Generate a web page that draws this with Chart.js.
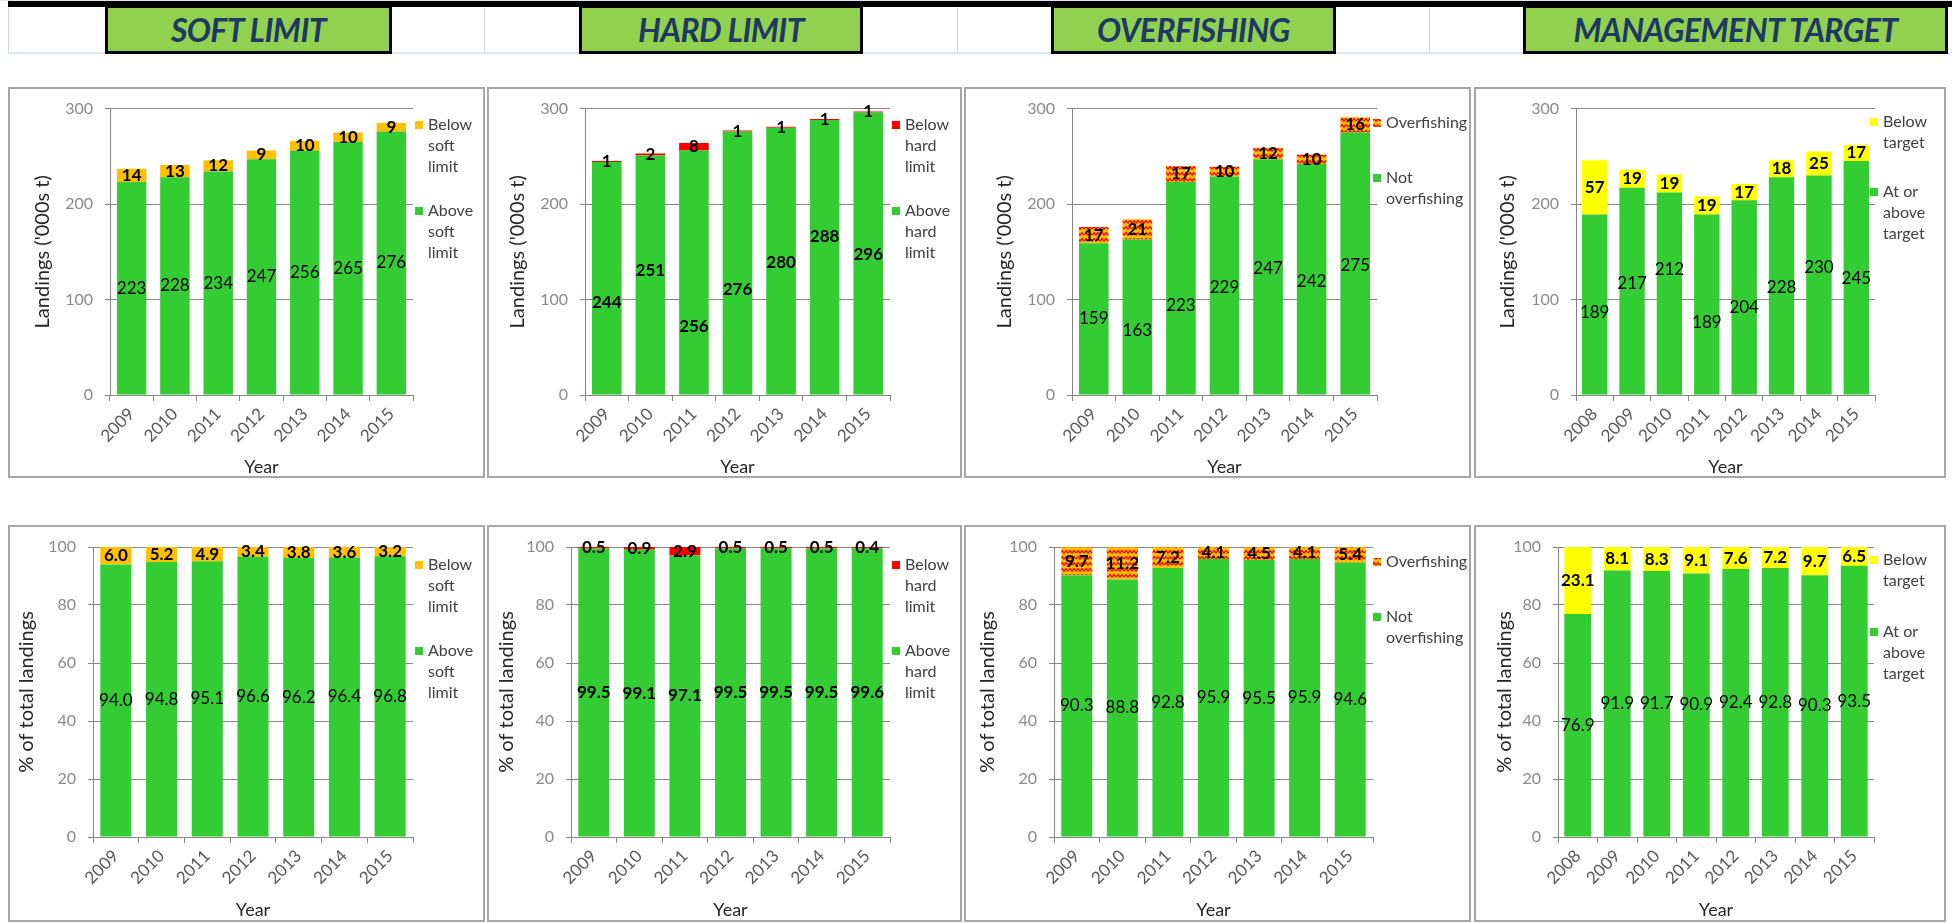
<!DOCTYPE html>
<html>
<head>
<meta charset="utf-8">
<title>Landings by harvest strategy reference point</title>
<script src="https://cdn.jsdelivr.net/npm/chart.js@4.4.1/dist/chart.umd.min.js"></script>
<style>
  html, body { margin: 0; padding: 0; background: #fff; }
  body { width: 1952px; height: 923px; position: relative; overflow: hidden; font-family: Lato, sans-serif; }
  .abs { position: absolute; box-sizing: border-box; }
  .topstrip { left: 0; top: 0; width: 1952px; height: 1px; background: #dce6f1; }
  .topline { left: 8px; top: 1px; width: 1944px; height: 6px; background: #000; }
  .cellrule { top: 7px; width: 1px; height: 46px; background: #d4d4d4; }
  .baserule { left: 8px; top: 52px; width: 1944px; height: 2px; background: #dde7f2; }
  .hdr { top: 5px; height: 49px; background: #92d050; border: 3px solid #000;
         display: flex; align-items: center; justify-content: center;
         font: italic bold 32px Lato, sans-serif; color: #1f3864; letter-spacing: -0.6px; }
  .panel { border: 2px solid #a6a6a6; background: #fff; }
  canvas { position: absolute; }
</style>
</head>
<body>
<div class="abs topstrip"></div>
<div class="abs topline"></div>
<div class="abs cellrule" style="left:8px"></div>
<div class="abs cellrule" style="left:484px"></div>
<div class="abs cellrule" style="left:957px"></div>
<div class="abs cellrule" style="left:1429px"></div>
<div class="abs baserule"></div>
<div class="abs hdr" style="left:105px;width:287px">SOFT LIMIT</div>
<div class="abs hdr" style="left:579px;width:284px">HARD LIMIT</div>
<div class="abs hdr" style="left:1051px;width:285px">OVERFISHING</div>
<div class="abs hdr" style="left:1523px;width:425px">MANAGEMENT TARGET</div>

<script>
// ---- categories ----
const years09 = ['2009', '2010', '2011', '2012', '2013', '2014', '2015'];
const years08 = ['2008', '2009', '2010', '2011', '2012', '2013', '2014', '2015'];

// ---- landings ('000s t) ----
const softBelow = [14, 13, 12, 9, 10, 10, 9];
const softAbove = [223, 228, 234, 247, 256, 265, 276];
const hardBelow = [1, 2, 8, 1, 1, 1, 1];
const hardAbove = [244, 251, 256, 276, 280, 288, 296];
const overfishing = [17, 21, 17, 10, 12, 10, 16];
const notOverfishing = [159, 163, 223, 229, 247, 242, 275];
const belowTarget = [57, 19, 19, 19, 17, 18, 25, 17];
const atOrAboveTarget = [189, 217, 212, 189, 204, 228, 230, 245];

// ---- % of total landings ----
const softBelowPct = [6.0, 5.2, 4.9, 3.4, 3.8, 3.6, 3.2];
const softAbovePct = [94.0, 94.8, 95.1, 96.6, 96.2, 96.4, 96.8];
const hardBelowPct = [0.5, 0.9, 2.9, 0.5, 0.5, 0.5, 0.4];
const hardAbovePct = [99.5, 99.1, 97.1, 99.5, 99.5, 99.5, 99.6];
const overfishingPct = [9.7, 11.2, 7.2, 4.1, 4.5, 4.1, 5.4];
const notOverfishingPct = [90.3, 88.8, 92.8, 95.9, 95.5, 95.9, 94.6];
const belowTargetPct = [23.1, 8.1, 8.3, 9.1, 7.6, 7.2, 9.7, 6.5];
const atOrAboveTargetPct = [76.9, 91.9, 91.7, 90.9, 92.4, 92.8, 90.3, 93.5];

// ---- y-axis tick labels ----
const tonnesTicks = [0, 100, 200, 300];
const pctTicks = [0, 20, 40, 60, 80, 100];

// axis units at which the lower-segment value labels sit where they are not centred
const hardAboveLabelAt = [97, 130, 72, 110, 139, 166, 147];
const notOverfishingLabelAt = [80, 68, 94, 113, 132, 119, 136];
const atOrAboveLabelAt = [86, 117, 131, 76, 92, 113, 134, 122];

// ---- colours ----
const GREEN = '#33cc33';
const ORANGE = '#ffc000';
const RED = '#ff0000';
const YELLOW = '#ffff00';
const AXIS = '#868686';

function zigzagPattern() {
  const tile = document.createElement('canvas');
  tile.width = 8; tile.height = 6;
  const g = tile.getContext('2d');
  g.fillStyle = ORANGE;
  g.fillRect(0, 0, 8, 6);
  g.strokeStyle = RED;
  g.lineWidth = 1.3;
  g.beginPath();
  g.moveTo(0, 4.2); g.lineTo(2, 1.6); g.lineTo(4, 4.2); g.lineTo(6, 1.6); g.lineTo(8, 4.2);
  g.stroke();
  return document.createElement('canvas').getContext('2d').createPattern(tile, 'repeat');
}

// value labels on each bar segment
const valueLabels = {
  id: 'valueLabels',
  afterDatasetsDraw(chart, args, opts) {
    const ctx = chart.ctx;
    const yScale = chart.scales.y;
    chart.data.datasets.forEach((ds, di) => {
      const meta = chart.getDatasetMeta(di);
      meta.data.forEach((bar, i) => {
        const v = ds.data[i];
        const py = ds.labelAt ? yScale.getPixelForValue(ds.labelAt[i]) : (bar.y + bar.base) / 2;
        ctx.save();
        ctx.font = (ds.labelWeight || 'normal') + ' 17px Lato, sans-serif';
        ctx.fillStyle = '#000';
        ctx.textAlign = 'center';
        ctx.textBaseline = 'middle';
        ctx.fillText(v.toFixed(opts.decimals), bar.x, py);
        ctx.restore();
      });
    });
  }
};

// legend on the right with wrapped entries
const sideLegend = {
  id: 'sideLegend',
  afterDraw(chart, args, opts) {
    const ctx = chart.ctx;
    ctx.save();
    ctx.font = '16px Lato, sans-serif';
    ctx.textAlign = 'left';
    ctx.textBaseline = 'middle';
    opts.items.forEach(item => {
      const ds = chart.data.datasets[item.dataset];
      ctx.fillStyle = ds.backgroundColor;
      ctx.fillRect(opts.boxX, item.y - 4, 8, 8);
      ctx.fillStyle = '#404040';
      item.lines.forEach((line, k) => ctx.fillText(line, opts.textX, item.y + k * opts.lineHeight));
    });
    ctx.restore();
  }
};

Chart.register(valueLabels, sideLegend);

const Y_TITLE_SIZE = 20, X_TITLE_SIZE = 18;

function makePanel(p) {
  const box = document.createElement('div');
  box.className = 'abs panel';
  Object.assign(box.style, { left: p.x + 'px', top: p.y + 'px', width: p.w + 'px', height: p.h + 'px' });
  document.body.appendChild(box);

  const cv = document.createElement('canvas');
  cv.width = p.w; cv.height = p.h;
  Object.assign(cv.style, { left: p.x + 'px', top: p.y + 'px', width: p.w + 'px', height: p.h + 'px' });
  document.body.appendChild(cv);

  const lhY = Y_TITLE_SIZE * 1.2, lhX = X_TITLE_SIZE * 1.2;
  const padLeft = p.yTitleX - lhY / 2 - p.x;
  const yWidth = p.plotL - (p.x + padLeft);
  const padRight = p.x + p.w - p.plotR;
  const padTop = p.plotT - p.y;
  const xBottom = p.xTitleY + lhX / 2;
  const padBottom = p.y + p.h - xBottom;
  const xHeight = xBottom - p.plotB;

  const datasets = [
    {
      label: p.lower.lines.join(' '), data: p.lower.data, backgroundColor: GREEN,
      labelAt: p.lower.labelAt || null, labelWeight: p.lower.weight || 'normal',
      barPercentage: 0.68, categoryPercentage: 1
    },
    {
      label: p.upper.lines.join(' '), data: p.upper.data, backgroundColor: p.upper.color,
      labelWeight: 'bold', barPercentage: 0.68, categoryPercentage: 1
    }
  ];

  new Chart(cv, {
    type: 'bar',
    data: { labels: p.labels, datasets },
    options: {
      responsive: false,
      animation: false,
      devicePixelRatio: 1,
      layout: { padding: { left: padLeft, right: padRight, top: padTop, bottom: padBottom } },
      plugins: {
        legend: { display: false },
        tooltip: { enabled: false },
        valueLabels: { decimals: p.decimals },
        sideLegend: {
          boxX: p.legendX - p.x,
          textX: p.legendX - p.x + 13,
          lineHeight: 21,
          items: [
            { dataset: 1, y: p.upper.legendY - p.y, lines: p.upper.lines },
            { dataset: 0, y: p.lower.legendY - p.y, lines: p.lower.lines }
          ]
        }
      },
      scales: {
        x: {
          stacked: true,
          grid: { offset: true, drawOnChartArea: false, drawTicks: true, tickLength: 6, color: AXIS },
          border: { display: true, color: AXIS, width: 1 },
          ticks: { minRotation: 45, maxRotation: 45, autoSkip: false, padding: 3,
                   color: '#595959', font: { family: 'Lato', size: 17 } },
          title: { display: true, text: 'Year', padding: 0, color: '#262626',
                   font: { family: 'Lato', size: X_TITLE_SIZE } },
          afterFit(s) { s.height = xHeight; }
        },
        y: {
          stacked: true,
          min: 0,
          max: p.yTicks[p.yTicks.length - 1],
          grid: { color: AXIS, drawTicks: true, tickLength: 5 },
          border: { display: true, color: AXIS, width: 1 },
          ticks: { padding: 12, color: '#8a8a8a', font: { family: 'Lato', size: 16 } },
          title: { display: true, text: p.yTitle, padding: 0, color: '#262626',
                   font: { family: 'Lato', size: Y_TITLE_SIZE } },
          afterBuildTicks(s) { s.ticks = p.yTicks.map(v => ({ value: v })); },
          afterFit(s) { s.width = yWidth; }
        }
      }
    }
  });
}

function build() {
  const hatch = zigzagPattern();
  const cols = [
    { x: 8, w: 477 }, { x: 487, w: 475 }, { x: 964, w: 507 }, { x: 1474, w: 472 }
  ];
  const row1 = { y: 87, h: 391, plotT: 108, plotB: 395, xTitleY: 467 };
  const row2 = { y: 525, h: 397, plotT: 547, plotB: 837, xTitleY: 910 };
  const tonnesTitle = "Landings ('000s t)";
  const pctTitle = '% of total landings';

  const panels = [
    // landings
    Object.assign({}, cols[0], row1, {
      plotL: 110, plotR: 413, yTitleX: 43, legendX: 415, labels: years09, yTicks: tonnesTicks,
      yTitle: tonnesTitle, decimals: 0,
      upper: { data: softBelow, color: ORANGE, lines: ['Below', 'soft', 'limit'], legendY: 125 },
      lower: { data: softAbove, lines: ['Above', 'soft', 'limit'], legendY: 211 }
    }),
    Object.assign({}, cols[1], row1, {
      plotL: 585, plotR: 890, yTitleX: 518, legendX: 892, labels: years09, yTicks: tonnesTicks,
      yTitle: tonnesTitle, decimals: 0,
      upper: { data: hardBelow, color: RED, lines: ['Below', 'hard', 'limit'], legendY: 125 },
      lower: { data: hardAbove, lines: ['Above', 'hard', 'limit'], legendY: 211,
               labelAt: hardAboveLabelAt, weight: 'bold' }
    }),
    Object.assign({}, cols[2], row1, {
      plotL: 1072, plotR: 1377, yTitleX: 1005, legendX: 1373, labels: years09, yTicks: tonnesTicks,
      yTitle: tonnesTitle, decimals: 0,
      upper: { data: overfishing, color: hatch, lines: ['Overfishing'], legendY: 123 },
      lower: { data: notOverfishing, lines: ['Not', 'overfishing'], legendY: 178,
               labelAt: notOverfishingLabelAt }
    }),
    Object.assign({}, cols[3], row1, {
      plotL: 1576, plotR: 1875, yTitleX: 1508, legendX: 1870, labels: years08, yTicks: tonnesTicks,
      yTitle: tonnesTitle, decimals: 0,
      upper: { data: belowTarget, color: YELLOW, lines: ['Below', 'target'], legendY: 122 },
      lower: { data: atOrAboveTarget, lines: ['At or', 'above', 'target'], legendY: 192,
               labelAt: atOrAboveLabelAt }
    }),
    // percentages
    Object.assign({}, cols[0], row2, {
      plotL: 93, plotR: 413, yTitleX: 27, legendX: 415, labels: years09, yTicks: pctTicks,
      yTitle: pctTitle, decimals: 1,
      upper: { data: softBelowPct, color: ORANGE, lines: ['Below', 'soft', 'limit'], legendY: 565 },
      lower: { data: softAbovePct, lines: ['Above', 'soft', 'limit'], legendY: 651 }
    }),
    Object.assign({}, cols[1], row2, {
      plotL: 571, plotR: 890, yTitleX: 507, legendX: 892, labels: years09, yTicks: pctTicks,
      yTitle: pctTitle, decimals: 1,
      upper: { data: hardBelowPct, color: RED, lines: ['Below', 'hard', 'limit'], legendY: 565 },
      lower: { data: hardAbovePct, lines: ['Above', 'hard', 'limit'], legendY: 651, weight: 'bold' }
    }),
    Object.assign({}, cols[2], row2, {
      plotL: 1054, plotR: 1373, yTitleX: 988, legendX: 1373, labels: years09, yTicks: pctTicks,
      yTitle: pctTitle, decimals: 1,
      upper: { data: overfishingPct, color: hatch, lines: ['Overfishing'], legendY: 562 },
      lower: { data: notOverfishingPct, lines: ['Not', 'overfishing'], legendY: 617 }
    }),
    Object.assign({}, cols[3], row2, {
      plotL: 1558, plotR: 1874, yTitleX: 1505, legendX: 1870, labels: years08, yTicks: pctTicks,
      yTitle: pctTitle, decimals: 1,
      upper: { data: belowTargetPct, color: YELLOW, lines: ['Below', 'target'], legendY: 560 },
      lower: { data: atOrAboveTargetPct, lines: ['At or', 'above', 'target'], legendY: 632 }
    })
  ];
  panels.forEach(makePanel);
}

const fontLoads = ['16px Lato', '17px Lato', 'bold 17px Lato', '20px Lato', 'italic bold 32px Lato']
  .map(f => document.fonts.load(f).catch(() => null));
Promise.all(fontLoads).then(build, build);
</script>
</body>
</html>
